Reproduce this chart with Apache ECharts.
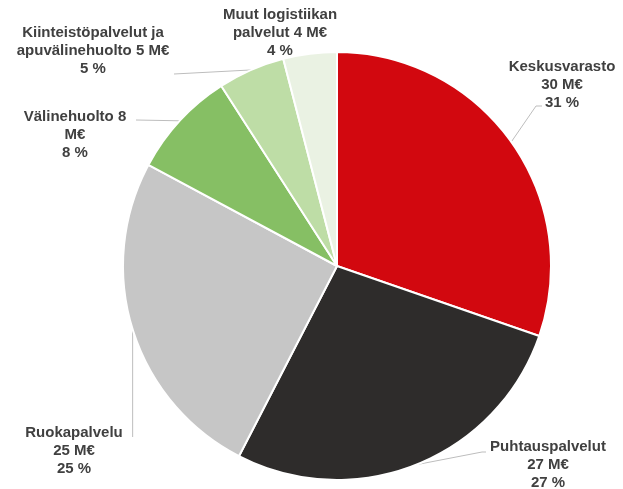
<!DOCTYPE html>
<html>
<head>
<meta charset="utf-8">
<script src="https://cdn.jsdelivr.net/npm/echarts@6/dist/echarts.min.js"></script>
<style>
  html, body { margin: 0; padding: 0; background: #fff; }
  #chart { width: 623px; height: 489px; }
</style>
</head>
<body>
<div id="chart"></div>
<script>
// Tiedot kuvasta
const names = ['Keskusvarasto', 'Puhtauspalvelut', 'Ruokapalvelu', 'Välinehuolto', 'Kiinteistöpalvelut ja apuvälinehuolto', 'Muut logistiikan palvelut'];
const valuesMe = [30, 27, 25, 8, 5, 4];
const percents = [31, 27, 25, 8, 5, 4];
const labelTexts = [
    'Keskusvarasto\n30 M€\n31 %',
    'Puhtauspalvelut\n27 M€\n27 %',
    'Ruokapalvelu\n25 M€\n25 %',
    'Välinehuolto 8\nM€\n8 %',
    'Kiinteistöpalvelut ja\napuvälinehuolto 5 M€\n5 %',
    'Muut logistiikan\npalvelut 4 M€\n4 %'
];
const colors = ['#D2080F', '#2E2C2B', '#C6C6C6', '#86BF64', '#BEDDA6', '#EAF2E3'];

// Tekstien paikat (keskipiste) ja viivojen taitepisteet
const labelPos = [
    { x: 562, y: 85, line: [[536, 106], [542, 106]] },
    { x: 548, y: 465, line: [[482, 452], [486, 452]] },
    { x: 74, y: 451, line: [[null, 437], [null, 437]] },
    { x: 75, y: 135, line: [[136, 120], [136, 120]] },
    { x: 93, y: 51, line: [[174, 74], [174, 74]] },
    { x: 280, y: 33, line: null }
];

const chart = echarts.init(document.getElementById('chart'));

const option = {
    animation: false,
    series: [{
        type: 'pie',
        center: [337, 266],
        radius: 214,
        startAngle: 90,
        clockwise: true,
        data: names.map((n, i) => ({
            name: n,
            value: valuesMe[i],
            itemStyle: { color: colors[i] }
        })),
        itemStyle: { borderColor: '#fff', borderWidth: 2 },
        label: {
            show: true,
            position: 'outside',
            formatter: p => labelTexts[p.dataIndex],
            fontFamily: 'Liberation Sans, Arial, sans-serif',
            fontSize: 15,
            fontWeight: 'bold',
            color: '#404040',
            lineHeight: 18,
            align: 'center',
            overflow: 'none'
        },
        labelLine: {
            show: true,
            length: 10,
            length2: 10,
            lineStyle: { color: '#bdbdbd', width: 1 }
        },
        labelLayout: function (params) {
            const pos = labelPos[params.dataIndex];
            const res = { x: pos.x, y: pos.y, align: 'center', verticalAlign: 'middle' };
            if (pos.line && params.labelLinePoints) {
                const start = params.labelLinePoints[0];
                const pts = pos.line.map(p => [p[0] === null ? start[0] : p[0], p[1]]);
                res.labelLinePoints = [start, pts[0], pts[1]];
            } else {
                res.labelLinePoints = [[0, 0], [0, 0], [0, 0]];
            }
            return res;
        },
        emphasis: { disabled: true }
    }]
};

chart.setOption(option);
</script>
</body>
</html>
